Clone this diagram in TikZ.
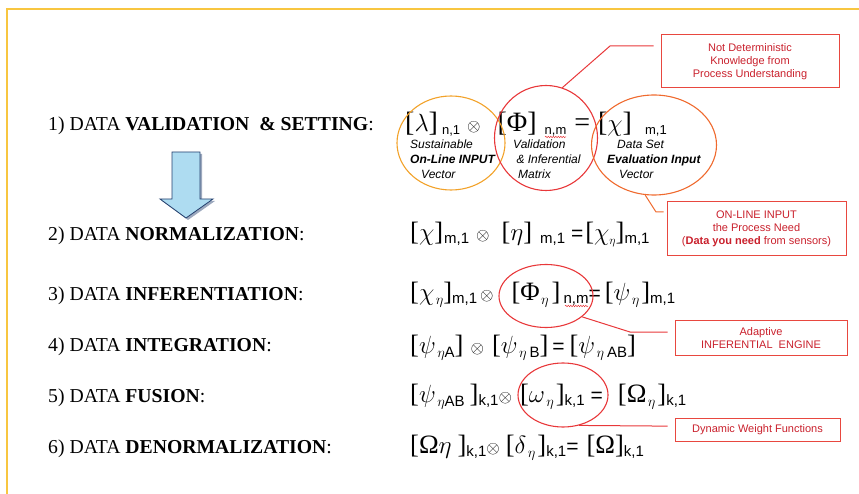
\documentclass[tikz,border=0pt]{standalone}
\usepackage{fontspec}
\setmainfont{Liberation Serif}
\setsansfont{Liberation Sans}
\usepackage{graphicx}
\usetikzlibrary{shapes.geometric,calc,decorations.pathmorphing}
\definecolor{FrameGold}{HTML}{F8C640}
\definecolor{RingGold}{HTML}{F2A22A}
\definecolor{RingRed}{HTML}{E8383A}
\definecolor{RingOrange}{HTML}{EF6A2E}
\definecolor{BoxRed}{HTML}{E8473F}
\definecolor{NoteRed}{HTML}{C9202C}
\definecolor{ArrowBlue}{HTML}{AEDCF1}
\definecolor{ArrowNavy}{HTML}{24406E}
% indices and operators of the formulas
\newcommand{\idx}[2][15]{\raisebox{-3pt}{\sffamily\fontsize{#1}{#1}\selectfont #2}}
\newcommand{\esub}[2][15]{\raisebox{-4pt}{\fontsize{#1}{#1}\selectfont\hspace{1.5pt}$\eta$\sffamily #2}}
\newcommand{\ox}[1][16]{{\fontsize{#1}{#1}\selectfont$\otimes$}}
\newcommand{\eqs}{{\sffamily\fontsize{21}{21}\selectfont=}}

\begin{document}
\begin{tikzpicture}[x=1pt,y=-1pt,
    stage/.style={anchor=base west, inner sep=0, font=\fontsize{19.7}{21}\selectfont},
    formula/.style={anchor=base west, inner sep=0, font=\fontsize{26.5}{28}\selectfont},
    gloss/.style={anchor=north west, inner sep=0, align=left, font=\sffamily\itshape\fontsize{12}{15}\selectfont},
    ring/.style={draw, ellipse, line width=1.1pt, inner sep=0},
    note/.style={draw=BoxRed, line width=1pt, text=NoteRed, align=center, inner sep=0, font=\sffamily\fontsize{11}{13}\selectfont},
    lead/.style={line width=1pt},
    squiggle/.style={RingRed, line width=.5pt, decorate, decoration={snake, amplitude=.7pt, segment length=2.5pt}}]
    \useasboundingbox (0,0) rectangle (859,494);
    \draw[FrameGold, line width=2pt] (7,494) -- (7,9) -- (859,9);

    % the six stages
    \foreach \n/\yy/\txt in {1/131/{VALIDATION \ \& SETTING}, 2/241/NORMALIZATION, 3/300/INFERENTIATION,
                             4/351/INTEGRATION, 5/402/FUSION, 6/453/DENORMALIZATION}
    {
        \node[stage] (lab\n) at (48,\yy) {\n) DATA \textbf{\txt}:};
    }

    % block arrow from stage 1 to stage 2
    \begin{scope}[shift={(2,2)}]
        \fill[ArrowNavy!45] (172,152) -- (200,152) -- (200,199) -- (213,199) -- (186,218) -- (160,199) -- (172,199) -- cycle;
    \end{scope}
    \draw[ArrowNavy, line width=.8pt, fill=ArrowBlue] (172,152) -- (200,152) -- (200,199) -- (213,199) -- (186,218) -- (160,199) -- (172,199) -- cycle;

    % formulas
    \node[formula, font=\fontsize{28}{30}\selectfont] (eq1) at (405,132)
        {[$\lambda$]\hspace{4pt}\idx[13]{n,1}\hspace{7pt}\ox[18]\hspace{17pt}[Φ]\hspace{8pt}\idx[13]{n,m}\hspace{8pt}=\hspace{8pt}[$\chi$]\hspace{13pt}\idx[13]{m,1}};
    \node[formula] (eq2) at (410,241)
        {[$\chi$]\hspace{1pt}\idx{m,1}\hspace{7pt}\ox\hspace{12pt}[$\eta$]\hspace{8pt}\idx{m,1}\hspace{6pt}\eqs\hspace{2pt}[$\chi$\hspace{-1.5pt}\esub[12]{}]\idx{m,1}};
    \node[formula] (eq3) at (410,300)
        {[$\chi$\esub{}]\idx{m,1}\hspace{3pt}\ox\hspace{18pt}[Φ\esub{}\hspace{3pt}]\hspace{3pt}\idx{n,m}\eqs\hspace{4pt}[$\psi$\esub{}\hspace{2pt}]\idx{m,1}};
    \node[formula] (eq4) at (410,353)
        {[$\psi$\esub{A}]\hspace{7pt}\ox\hspace{8pt}[$\psi$\esub{\hspace{3pt}B}]\hspace{4pt}\eqs\hspace{5pt}[$\psi$\esub{\hspace{3pt}AB}]};
    \node[formula] (eq5) at (410,402)
        {[$\psi$\esub{AB}\hspace{5pt}]\idx{k,1}\ox\hspace{8pt}[$\omega$\esub{}\hspace{2pt}]\idx{k,1}\hspace{6pt}\eqs\hspace{15pt}[Ω\esub{}\hspace{2pt}]\idx{k,1}};
    \node[formula] (eq6) at (410,453)
        {[Ω$\eta$\hspace{6pt}]\idx{k,1}\ox\hspace{6pt}[$\delta$\esub{}\hspace{2pt}]\idx{k,1}\eqs\hspace{8pt}[Ω]\idx{k,1}};

    \node[gloss] (lamgloss) at (410,140) {Sustainable\\\textbf{On-Line INPUT}\\\hspace{11pt}Vector};
    \node[gloss] (phigloss) at (513,140) {Validation\\\ \& Inferential\\\hspace{5pt}Matrix};
    \node[gloss] (chigloss) at (607,140) {\hspace{10pt}Data Set\\\textbf{Evaluation Input}\\\hspace{12pt}Vector};

    % rings round the terms
    \node[ring, draw=RingGold, minimum width=108pt, minimum height=94pt] (lamring) at (451,143) {};
    \node[ring, draw=RingRed, minimum width=103pt, minimum height=105pt] (phiring) at (546,138) {};
    \node[ring, draw=RingOrange, minimum width=125pt, minimum height=100pt] (chiring) at (654,145) {};
    \node[ring, draw=RingRed, minimum width=94pt, minimum height=63pt] (phietaring) at (546,296) {};
    \node[ring, draw=RingRed, minimum width=90pt, minimum height=64pt] (omegaring) at (563,395) {};

    % notes
    \node[note, minimum width=178pt, minimum height=53pt] (detnote) at (750,61.5) {Not Deterministic\\Knowledge from\\Process Understanding};
    \node[note, minimum width=179pt, minimum height=54pt] (inputnote) at (756.5,229) {ON-LINE INPUT\\the Process Need\\(\textbf{Data you need} from sensors)};
    \node[note, minimum width=172pt, minimum height=35pt] (enginenote) at (761,338) {Adaptive\\INFERENTIAL\ \ ENGINE};
    \node[note, minimum width=165pt, minimum height=23pt] (weightnote) at (757.5,429.5) {Dynamic Weight Functions};

    \coordinate (detknee) at (610,46);
    \coordinate (inputknee) at (656,212);
    \coordinate (engineknee) at (630,332);
    \coordinate (weightknee) at (652,426);
    \draw[lead, RingRed, shorten >=7pt] (phiring.72) -- (detknee) -- (detknee -| detnote.west);
    \draw[lead, RingOrange, shorten >=3pt] (chiring.260) -- (inputknee) -- (inputknee -| inputnote.west);
    \draw[lead, RingRed, shorten >=7pt] (phietaring.-30) -- (engineknee) -- (engineknee -| enginenote.west);
    \draw[lead, RingRed, shorten >=7pt] (omegaring.-62) -- (weightknee) -- (weightknee -| weightnote.west);

    % spelling marks under n,m
    \draw[squiggle] (545,137) -- (566,137);
    \draw[squiggle] (565,306) -- (588,306);
\end{tikzpicture}
\end{document}
